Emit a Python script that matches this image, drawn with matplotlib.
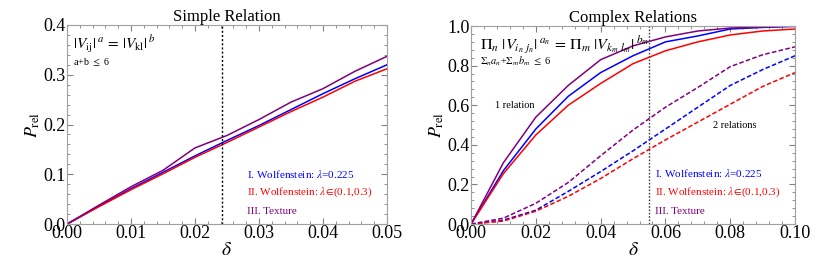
import matplotlib
matplotlib.use("Agg")
import matplotlib.pyplot as plt
from matplotlib.ticker import AutoMinorLocator, MultipleLocator

plt.rcParams["font.family"] = ["Liberation Serif", "DejaVu Serif"]
plt.rcParams["mathtext.fontset"] = "stix"

BLUE, RED, PURPLE = "#0000ff", "#ff0000", "#800080"

# ── Simple relation (left) ─────────────────────────────
delta_simple = [0.0, 0.005, 0.01, 0.015, 0.02, 0.025, 0.03, 0.035, 0.04, 0.045, 0.05]
simple_wolf = [0.0, 0.036, 0.071, 0.104, 0.137, 0.168, 0.198, 0.230, 0.262, 0.292, 0.320]
simple_range = [0.0, 0.035, 0.069, 0.101, 0.134, 0.164, 0.195, 0.226, 0.255, 0.287, 0.312]
simple_texture = [0.0, 0.038, 0.075, 0.108, 0.153, 0.178, 0.210, 0.245, 0.272, 0.307, 0.337]
simple_cut = 0.0243

# ── Complex relations (right) ──────────────────────────
delta_complex = [0.0, 0.01, 0.02, 0.03, 0.04, 0.05, 0.06, 0.07, 0.08, 0.09, 0.10]
one_wolf = [0.0, 0.27, 0.48, 0.645, 0.765, 0.85, 0.92, 0.95, 0.985, 0.993, 0.998]
one_range = [0.0, 0.255, 0.45, 0.60, 0.71, 0.81, 0.875, 0.92, 0.955, 0.975, 0.985]
one_texture = [0.0, 0.31, 0.54, 0.70, 0.83, 0.90, 0.945, 0.975, 0.99, 0.995, 1.0]
two_wolf = [0.0, 0.02, 0.07, 0.165, 0.265, 0.37, 0.48, 0.59, 0.70, 0.78, 0.85]
two_range = [0.0, 0.015, 0.065, 0.14, 0.23, 0.33, 0.425, 0.515, 0.605, 0.695, 0.765]
two_texture = [0.0, 0.03, 0.105, 0.21, 0.345, 0.475, 0.59, 0.69, 0.795, 0.855, 0.895]
complex_cut = 0.055

legend_labels = [r"I. Wolfenstein: $\lambda$=0.225",
                 r"II. Wolfenstein: $\lambda\!\in\!$(0.1,0.3)",
                 "III. Texture"]
legend_colors = [BLUE, RED, PURPLE]

fig = plt.figure(figsize=(8.3, 2.63), dpi=100)
ax1 = fig.add_axes([0.0807, 0.148, 0.3855, 0.757])
ax2 = fig.add_axes([0.5675, 0.148, 0.3904, 0.753])


def style_axis(ax):
    for sp in ax.spines.values():
        sp.set_color("#a0a0a0")
        sp.set_linewidth(0.8)
    ax.tick_params(which="both", direction="in", color="#808080",
                   top=True, right=True, labelsize=13, pad=1)
    ax.tick_params(which="major", length=4)
    ax.tick_params(which="minor", length=2)
    ax.xaxis.set_minor_locator(AutoMinorLocator(5))
    ax.yaxis.set_minor_locator(AutoMinorLocator(5))
    ax.set_xlabel(r"$\delta$", fontsize=14, labelpad=0)
    ax.set_ylabel(r"$P_{\rm rel}$", fontsize=13, labelpad=1)


lw = 1.1
ax1.plot(delta_simple, simple_wolf, color=BLUE, lw=lw)
ax1.plot(delta_simple, simple_range, color=RED, lw=lw)
ax1.plot(delta_simple, simple_texture, color=PURPLE, lw=lw)
ax1.axvline(simple_cut, color="black", ls=(0, (1.5, 1.5)), lw=1.0)
ax1.set_xlim(0, 0.05)
ax1.set_ylim(0, 0.4)
ax1.xaxis.set_major_locator(MultipleLocator(0.01))
ax1.yaxis.set_major_locator(MultipleLocator(0.1))
ax1.xaxis.set_major_formatter(lambda v, p: f"{v:.2f}")
ax1.yaxis.set_major_formatter(lambda v, p: f"{v:.1f}")
style_axis(ax1)
ax1.set_title("Simple Relation", fontsize=12, pad=3)
ax1.text(0.02, 0.905, r"$|V_{\rm ij}|^{\;a}\, =\, |V_{\rm kl}|^{\;b}$",
         transform=ax1.transAxes, fontsize=11, va="center")
ax1.text(0.02, 0.815, r"a+b $\leq$ 6", transform=ax1.transAxes,
         fontsize=7.3, va="center")
for lab, col, yy in zip(legend_labels, legend_colors, [0.251, 0.16, 0.065]):
    ax1.text(0.5625, yy, lab, color=col, transform=ax1.transAxes,
             fontsize=8, va="center")

for ys, col in [(one_wolf, BLUE), (one_range, RED), (one_texture, PURPLE)]:
    ax2.plot(delta_complex, ys, color=col, lw=lw)
for ys, col in [(two_wolf, BLUE), (two_range, RED), (two_texture, PURPLE)]:
    ax2.plot(delta_complex, ys, color=col, lw=lw, ls=(0, (3, 1.5)))
ax2.axvline(complex_cut, color="#404040", ls=(0, (1.2, 1.2)), lw=1.0)
ax2.set_xlim(0, 0.1)
ax2.set_ylim(0, 1.0)
ax2.xaxis.set_major_locator(MultipleLocator(0.02))
ax2.yaxis.set_major_locator(MultipleLocator(0.2))
ax2.xaxis.set_major_formatter(lambda v, p: f"{v:.2f}")
ax2.yaxis.set_major_formatter(lambda v, p: f"{v:.1f}")
style_axis(ax2)
ax2.set_title("Complex Relations", fontsize=12, pad=3)
ax2.text(0.028, 0.905,
         r"$\Pi_n\ |V_{i_n\ j_n}|^{\;a_n}\, =\, \Pi_m\ |V_{k_m\ l_m}|^{\;b_m}$",
         transform=ax2.transAxes, fontsize=11.5, va="center")
ax2.text(0.028, 0.82, r"$\Sigma_n a_n$+$\Sigma_m b_m$ $\leq$ 6",
         transform=ax2.transAxes, fontsize=7.5, va="center")
ax2.text(0.136, 0.60, "1 relation", transform=ax2.transAxes,
         fontsize=7.5, ha="center", va="center")
ax2.text(0.815, 0.50, "2 relations", transform=ax2.transAxes,
         fontsize=7.5, ha="center", va="center")
for lab, col, yy in zip(legend_labels, legend_colors, [0.257, 0.16, 0.066]):
    ax2.text(0.568, yy, lab, color=col, transform=ax2.transAxes,
             fontsize=8, va="center")

fig.savefig("out.png", dpi=100)
